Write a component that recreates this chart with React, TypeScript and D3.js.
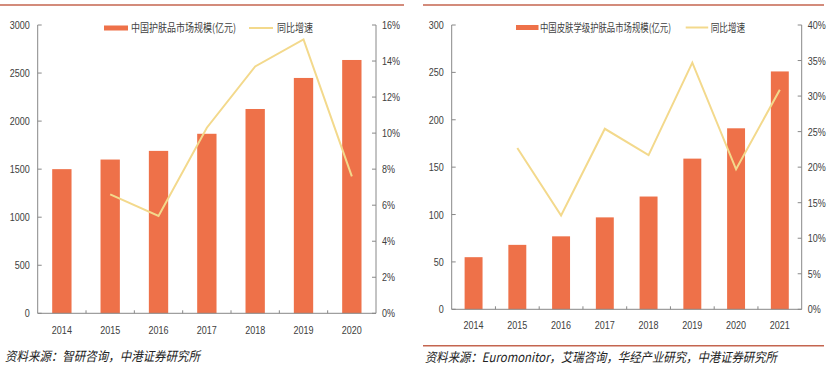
import React from "react";
import * as d3 from "d3";

const yearsA = ["2014", "2015", "2016", "2017", "2018", "2019", "2020"];
const marketA = [1500, 1600, 1690, 1868, 2126, 2449, 2636];
const growthA = [null, 6.6, 5.4, 10.3, 13.7, 15.2, 7.6];
const leftTicksA = [0, 500, 1000, 1500, 2000, 2500, 3000];
const rightTicksA = [0, 2, 4, 6, 8, 10, 12, 14, 16];

const yearsB = ["2014", "2015", "2016", "2017", "2018", "2019", "2020", "2021"];
const marketB = [55, 68, 77, 97, 119, 159, 191, 251];
const growthB = [null, 22.7, 13.2, 25.4, 21.7, 34.7, 19.7, 30.9];
const leftTicksB = [0, 50, 100, 150, 200, 250, 300];
const rightTicksB = [0, 5, 10, 15, 20, 25, 30, 35, 40];

const BAR = "#EE7149";
const LINE = "#F3D98C";
const AXIS = "#888888";
const TXT = "#404040";
const RULE = "#C4654F";
const NUM_FONT = "'Liberation Sans', Arial, sans-serif";
const CJK_FONT = "'Noto Sans CJK SC', sans-serif";
const SX = 0.82;

function SText({ x, y, anchor, children, size = 11, fill = TXT }: any) {
  return (
    <text
      transform={`translate(${x},${y}) scale(${SX},1)`}
      textAnchor={anchor}
      fontSize={size}
      fontFamily={NUM_FONT}
      fill={fill}
    >
      {children}
    </text>
  );
}

function Panel(props: any) {
  const { years, market, growth, leftTicks, rightTicks, x0, x1, y0, y1, xLabelY, legend, pad } = props;
  const x = d3.scaleBand<string>().domain(years).range([x0, x1]).paddingInner(pad).paddingOuter(pad / 2);
  const yL = d3.scaleLinear().domain([0, leftTicks[leftTicks.length - 1]]).range([y1, y0]);
  const yR = d3.scaleLinear().domain([0, rightTicks[rightTicks.length - 1]]).range([y1, y0]);
  const pts = years.map((yr: string, i: number) => ({ yr, v: growth[i] })).filter((p: any) => p.v != null);
  const line = d3
    .line<any>()
    .x((p) => (x(p.yr) as number) + x.bandwidth() / 2)
    .y((p) => yR(p.v));
  const step = x.step();
  const boundaries = d3.range(years.length + 1).map((i) => x0 + i * step);
  return (
    <g>
      {years.map((yr: string, i: number) => (
        <rect
          key={yr}
          x={x(yr)}
          y={yL(market[i])}
          width={x.bandwidth()}
          height={y1 - yL(market[i])}
          fill={BAR}
        />
      ))}
      <path d={line(pts) || ""} fill="none" stroke={LINE} strokeWidth={2} />
      {/* axes */}
      <line x1={x0} x2={x0} y1={y0} y2={y1} stroke={AXIS} strokeWidth={1} />
      <line x1={x1} x2={x1} y1={y0} y2={y1} stroke={AXIS} strokeWidth={1} />
      <line x1={x0} x2={x1} y1={y1} y2={y1} stroke={AXIS} strokeWidth={1} />
      {leftTicks.map((t: number) => (
        <g key={"l" + t}>
          <line x1={x0} x2={x0 + 4} y1={yL(t)} y2={yL(t)} stroke={AXIS} />
          <SText x={x0 - 8} y={yL(t) + 4} anchor="end">{t}</SText>
        </g>
      ))}
      {rightTicks.map((t: number) => (
        <g key={"r" + t}>
          <line x1={x1 - 4} x2={x1} y1={yR(t)} y2={yR(t)} stroke={AXIS} />
          <SText x={x1 + 6} y={yR(t) + 4} anchor="start">{t + "%"}</SText>
        </g>
      ))}
      {boundaries.slice(1, -1).map((b: number, i: number) => (
        <line key={"b" + i} x1={b} x2={b} y1={y1} y2={y1 - 3} stroke={AXIS} />
      ))}
      {years.map((yr: string) => (
        <SText key={"x" + yr} x={(x(yr) as number) + x.bandwidth() / 2} y={xLabelY} anchor="middle">
          {yr}
        </SText>
      ))}
      {/* legend */}
      <rect x={legend.barX} y={legend.y - 2.5} width={legend.swW} height={5} fill={BAR} />
      <text
        x={legend.barTextX}
        y={legend.y + 4}
        fontSize={11}
        fontFamily={CJK_FONT}
        fill={TXT}
        textLength={legend.barTextW}
        lengthAdjust="spacingAndGlyphs"
      >
        {legend.barLabel}
      </text>
      <line x1={legend.lineX} x2={legend.lineX + legend.swW} y1={legend.y} y2={legend.y} stroke={LINE} strokeWidth={2} />
      <text
        x={legend.lineTextX}
        y={legend.y + 4}
        fontSize={11}
        fontFamily={CJK_FONT}
        fill={TXT}
        textLength={legend.lineTextW}
        lengthAdjust="spacingAndGlyphs"
      >
        同比增速
      </text>
    </g>
  );
}

export default function App() {
  return (
    <svg
      width={831}
      height={375}
      style={{ position: "absolute", left: 0, top: 0, background: "#fff" }}
    >
      <rect x={0} y={0} width={831} height={375} fill="#fff" />
      <line x1={0} x2={404} y1={5} y2={5} stroke={RULE} strokeWidth={1.5} />
      <line x1={423} x2={824} y1={5} y2={5} stroke={RULE} strokeWidth={1.5} />
      <line x1={423} x2={824} y1={345.7} y2={345.7} stroke={RULE} strokeWidth={1.5} />
      <Panel
        years={yearsA}
        market={marketA}
        growth={growthA}
        leftTicks={leftTicksA}
        rightTicks={rightTicksA}
        x0={37.7}
        x1={376}
        y0={25}
        y1={313.3}
        xLabelY={334}
        pad={0.6}
        legend={{
          y: 28,
          barX: 104,
          swW: 24,
          barTextX: 131,
          barTextW: 105,
          barLabel: "中国护肤品市场规模(亿元)",
          lineX: 249,
          lineTextX: 277,
          lineTextW: 36,
        }}
      />
      <Panel
        years={yearsB}
        market={marketB}
        growth={growthB}
        leftTicks={leftTicksB}
        rightTicks={rightTicksB}
        x0={451.7}
        x1={801.7}
        y0={25}
        y1={309.3}
        xLabelY={328.5}
        pad={0.59}
        legend={{
          y: 27.5,
          barX: 516,
          swW: 22.5,
          barTextX: 540,
          barTextW: 131,
          barLabel: "中国皮肤学级护肤品市场规模(亿元)",
          lineX: 685.7,
          lineTextX: 710.7,
          lineTextW: 34.5,
        }}
      />
      <text
        x={5}
        y={361}
        fontSize={13}
        fontStyle="italic"
        fontFamily={CJK_FONT}
        fill="#222"
        textLength={195}
        lengthAdjust="spacingAndGlyphs"
      >
        资料来源：智研咨询，中港证券研究所
      </text>
      <text
        x={425}
        y={362}
        fontSize={13}
        fontStyle="italic"
        fontFamily={CJK_FONT}
        fill="#222"
        textLength={352}
        lengthAdjust="spacingAndGlyphs"
      >
        资料来源：Euromonitor，艾瑞咨询，华经产业研究，中港证券研究所
      </text>
    </svg>
  );
}
